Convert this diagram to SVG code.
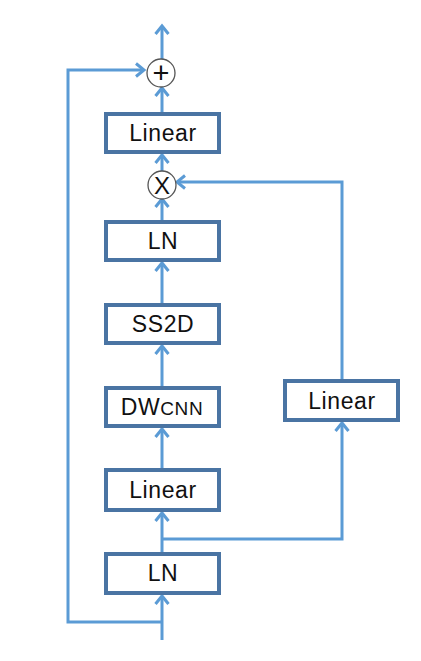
<svg xmlns="http://www.w3.org/2000/svg" width="421" height="661" viewBox="0 0 421 661">
<style>
.box{fill:#fff;stroke:#4a74a3;stroke-width:4}
.lbl{font-family:"Liberation Sans",Arial,sans-serif;font-size:23px;letter-spacing:0.6px;fill:#111;text-anchor:middle}
.op{fill:#fff;stroke:#555;stroke-width:1.3}
.ln{fill:none;stroke:#5b9bd5;stroke-width:3;stroke-linejoin:miter}
</style>
<defs>
<marker id="ah" markerUnits="userSpaceOnUse" viewBox="0 0 12 16" refX="10" refY="8" markerWidth="12" markerHeight="16" orient="auto" overflow="visible">
<path d="M2,1.5 L10,8 L2,14.5" fill="none" stroke="#5b9bd5" stroke-width="3"/>
</marker>
</defs>
<rect width="421" height="661" fill="#fff"/>
<g id="connectors">
<line class="ln" x1="162" y1="60" x2="162" y2="26" marker-end="url(#ah)"/>
<line class="ln" x1="162" y1="112" x2="162" y2="88" marker-end="url(#ah)"/>
<line class="ln" x1="162" y1="172" x2="162" y2="155" marker-end="url(#ah)"/>
<line class="ln" x1="162" y1="220" x2="162" y2="199" marker-end="url(#ah)"/>
<line class="ln" x1="162" y1="303" x2="162" y2="263" marker-end="url(#ah)"/>
<line class="ln" x1="162" y1="386" x2="162" y2="346" marker-end="url(#ah)"/>
<line class="ln" x1="162" y1="468" x2="162" y2="429" marker-end="url(#ah)"/>
<line class="ln" x1="162" y1="552" x2="162" y2="513" marker-end="url(#ah)"/>
<line class="ln" x1="162" y1="640" x2="162" y2="596" marker-end="url(#ah)"/>
<polyline class="ln" points="162,622 68,622 68,70 144,70" marker-end="url(#ah)"/>
<polyline class="ln" points="162,539 342,539 342,423" marker-end="url(#ah)"/>
<polyline class="ln" points="342,379 342,182 177,182" marker-end="url(#ah)"/>
</g>
<g id="add">
<circle class="op" cx="161" cy="73" r="14"/>
<text x="161" y="83" font-family="Liberation Sans,Arial,sans-serif" font-size="29" text-anchor="middle" fill="#111">+</text>
</g>
<g id="mul">
<circle class="op" cx="162" cy="185" r="14"/>
<text x="162" y="193.5" font-family="Liberation Sans,Arial,sans-serif" font-size="24" text-anchor="middle" fill="#111">X</text>
</g>
<g id="linear-out">
<rect class="box" x="106" y="114" width="113" height="38"/>
<text class="lbl" x="163" y="141">Linear</text>
</g>
<g id="ln-top">
<rect class="box" x="106" y="222" width="113" height="38"/>
<text class="lbl" x="163" y="249">LN</text>
</g>
<g id="ss2d">
<rect class="box" x="106" y="305" width="113" height="38"/>
<text class="lbl" x="163" y="332">SS2D</text>
</g>
<g id="dwcnn">
<rect class="box" x="106" y="388" width="113" height="38"/>
<text class="lbl" x="162" y="415">DW<tspan font-size="19">CNN</tspan></text>
</g>
<g id="linear-in">
<rect class="box" x="106" y="470" width="113" height="40"/>
<text class="lbl" x="163" y="498">Linear</text>
</g>
<g id="ln-bottom">
<rect class="box" x="106" y="554" width="113" height="39"/>
<text class="lbl" x="163" y="581">LN</text>
</g>
<g id="linear-gate">
<rect class="box" x="285" y="381" width="113" height="39"/>
<text class="lbl" x="342" y="409">Linear</text>
</g>
</svg>
